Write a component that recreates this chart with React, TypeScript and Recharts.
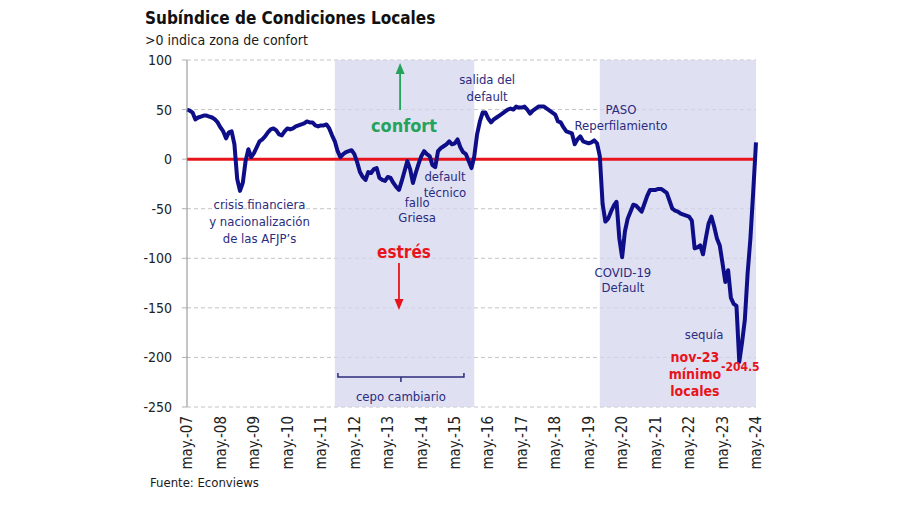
import React from 'react';
import {
  LineChart,
  Line,
  XAxis,
  YAxis,
  CartesianGrid,
  ReferenceArea,
  ReferenceLine,
  ReferenceDot,
} from 'recharts';

const FONT = "'DejaVu Sans Condensed', 'DejaVu Sans', sans-serif";
const NAVY_TEXT = '#2b2b7e';
const RED = '#e8141c';
const GREEN = '#25a35a';

// month index 0 = may-07 ... 204 = may-24
const tickLabels = [
  'may.-07', 'may.-08', 'may.-09', 'may.-10', 'may.-11', 'may.-12',
  'may.-13', 'may.-14', 'may.-15', 'may.-16', 'may.-17', 'may.-18',
  'may.-19', 'may.-20', 'may.-21', 'may.-22', 'may.-23', 'may.-24',
];
const tickMonths = [0, 12, 24, 36, 48, 60, 72, 84, 96, 108, 120, 132, 144, 156, 168, 180, 192, 204];
const yTicks = [100, 50, 0, -50, -100, -150, -200, -250];

const values = [
  // may-07 .. abr-08
  50, 49, 47, 40, 42, 43, 44, 44, 43, 42, 40, 37,
  // may-08 .. abr-09
  32, 28, 21, 27, 28, 15, -20, -32, -24, -2, 10, 2,
  // may-09 .. abr-10
  6, 12, 18, 20, 23, 27, 30, 31, 29, 25, 24, 28,
  // may-10 .. abr-11
  31, 30, 31, 33, 34, 35, 36, 38, 37, 37, 34, 33,
  // may-11 .. abr-12
  34, 34, 35, 31, 24, 18, 8, 2, 5, 7, 8, 9,
  // may-12 .. abr-13
  5, -3, -13, -18, -21, -13, -14, -10, -9, -19, -21, -22,
  // may-13 .. abr-14
  -18, -19, -24, -28, -31, -22, -12, -2, -10, -24, -14, -5,
  // may-14 .. abr-15
  3, 8, 5, 3, -6, -8, 8, 11, 13, 15, 18, 15,
  // may-15 .. abr-16
  16, 20, 12, 7, 5, -2, -9, 3, 25, 38, 47, 47,
  // may-16 .. abr-17
  41, 37, 40, 42, 44, 46, 48, 50, 51, 50, 53, 52,
  // may-17 .. abr-18
  52, 53, 50, 46, 49, 51, 53, 53, 53, 51, 49, 47,
  // may-18 .. abr-19
  45, 38, 37, 32, 28, 27, 26, 15, 20, 23, 18, 17,
  // may-19 .. abr-20
  16, 17, 19, 16, 3, -45, -63, -60, -53, -47, -43, -80,
  // may-20 .. abr-21
  -99, -73, -60, -53, -46, -47, -50, -53, -45, -37, -31, -31,
  // may-21 .. abr-22
  -31, -30, -30, -32, -34, -42, -50, -52, -53, -55, -56, -57,
  // may-22 .. abr-23
  -58, -62, -90, -89, -87, -96, -80, -65, -58, -68, -80, -87,
  // may-23 .. abr-24
  -105, -124, -112, -140, -146, -148, -204.5, -185, -162, -115, -80, -33,
  // may-24
  17,
];

const cepoPeriod = [53, 103];
const lastPeriod = [148, 204];

const data = values.map((v, m) => ({ m, v }));

const center = (props: any) => {
  const vb = props.viewBox || {};
  const cx = (vb.x ?? props.x ?? 0) + (vb.width ?? 0) / 2;
  const cy = (vb.y ?? props.y ?? 0) + (vb.height ?? 0) / 2;
  return { cx, cy };
};

type TextOpts = {
  lines: string[];
  color?: string;
  size?: number;
  bold?: boolean;
  lh?: number;
  dx?: number;
  dy?: number;
};

const textLabel = (o: TextOpts) => (props: any) => {
  const { cx, cy } = center(props);
  const lh = o.lh ?? 16;
  return (
    <text
      fill={o.color ?? NAVY_TEXT}
      fontFamily={FONT}
      fontSize={o.size ?? 13}
      fontWeight={o.bold ? 'bold' : 'normal'}
      textAnchor="middle"
    >
      {o.lines.map((l, k) => (
        <tspan key={k} x={cx + (o.dx ?? 0)} y={cy + (o.dy ?? 0) + k * lh} dy="0.35em">
          {l}
        </tspan>
      ))}
    </text>
  );
};

const arrowLabel = (color: string, up: boolean) => (props: any) => {
  const { cx, cy } = center(props);
  const s = up ? -1 : 1;
  return (
    <g>
      <line x1={cx} y1={cy} x2={cx} y2={cy + s * 38} stroke={color} strokeWidth={1.8} />
      <polygon
        points={`${cx - 4.5},${cy + s * 36} ${cx + 4.5},${cy + s * 36} ${cx},${cy + s * 47}`}
        fill={color}
      />
    </g>
  );
};

const bracketLabel = (props: any) => {
  const { cx, cy } = center(props);
  return (
    <g>
      <path
        d={`M${cx - 63},${cy - 4} L${cx - 63},${cy} L${cx + 63},${cy} L${cx + 63},${cy - 4} M${cx},${cy} L${cx},${cy + 5}`}
        stroke={NAVY_TEXT}
        strokeWidth={1.5}
        fill="none"
      />
      <text x={cx} y={cy + 19} dy="0.35em" textAnchor="middle" fill={NAVY_TEXT} fontFamily={FONT} fontSize={13}>
        cepo cambiario
      </text>
    </g>
  );
};

const XTick = (props: any) => {
  const { x, y, payload } = props;
  const idx = tickMonths.indexOf(payload.value);
  const label = idx >= 0 ? tickLabels[idx] : '';
  const yy = y + 1;
  return (
    <text
      x={x}
      y={yy}
      transform={`rotate(-90, ${x}, ${yy})`}
      textAnchor="end"
      dy="0.35em"
      fill="#222"
      fontFamily={FONT}
      fontSize={15}
    >
      {label}
    </text>
  );
};

const hidden = { r: 0, fill: 'none', stroke: 'none', ifOverflow: 'visible' as const };

export default function App() {
  return (
    <div style={{ position: 'absolute', left: 0, top: 0, width: 900, height: 505, background: '#fff' }}>
      <div
        style={{
          position: 'absolute', left: 145, top: 7, fontFamily: FONT, fontWeight: 'bold',
          fontSize: 17, lineHeight: '22px', color: '#111', whiteSpace: 'nowrap',
        }}
      >
        Subíndice de Condiciones Locales
      </div>
      <div
        style={{
          position: 'absolute', left: 145, top: 31, fontFamily: FONT, fontSize: 14,
          lineHeight: '18px', color: '#1a1a1a', whiteSpace: 'nowrap',
        }}
      >
        &gt;0 indica zona de confort
      </div>
      <div
        style={{
          position: 'absolute', left: 150, top: 475, fontFamily: FONT, fontSize: 13,
          lineHeight: '16px', color: '#1a1a1a', whiteSpace: 'nowrap',
        }}
      >
        Fuente: Econviews
      </div>
      <div style={{ position: 'absolute', left: 0, top: 0 }}>
        <LineChart
          width={900}
          height={505}
          data={data}
          margin={{ top: 60, right: 144, bottom: 0, left: 127 }}
        >
          <CartesianGrid vertical={false} stroke="#c4c4c4" strokeDasharray="4 3" />
          <ReferenceArea x1={cepoPeriod[0]} x2={cepoPeriod[1]} fill="#d6d6ef" fillOpacity={0.75} stroke="none" />
          <ReferenceArea x1={lastPeriod[0]} x2={lastPeriod[1]} fill="#d6d6ef" fillOpacity={0.75} stroke="none" />
          <XAxis
            type="number"
            dataKey="m"
            domain={[0, 204]}
            ticks={tickMonths}
            interval={0}
            height={98}
            axisLine={false}
            tickLine={false}
            tick={<XTick />}
          />
          <YAxis
            type="number"
            domain={[-250, 100]}
            ticks={yTicks}
            interval={0}
            width={60}
            axisLine={{ stroke: '#8a8a8a' }}
            tickLine={{ stroke: '#b0b0b0' }}
            tickSize={5}
            tickMargin={10}
            tick={{ fill: '#222', fontSize: 14, fontFamily: FONT }}
          />
          <ReferenceLine y={0} stroke={RED} strokeWidth={3} />
          <Line
            type="linear"
            dataKey="v"
            stroke="#0e0e88"
            strokeWidth={4}
            strokeLinejoin="round"
            dot={false}
            activeDot={false}
            isAnimationActive={false}
          />
          <ReferenceDot x={26} y={-46} {...hidden} label={textLabel({ lines: ['crisis financiera', 'y nacionalización', 'de las  AFJP\u2019s'], lh: 17 })} />
          <ReferenceDot x={82.5} y={-44} {...hidden} label={textLabel({ lines: ['fallo', 'Griesa'], lh: 15 })} />
          <ReferenceDot x={92.5} y={-17} {...hidden} label={textLabel({ lines: ['default', 'técnico'], lh: 16 })} />
          <ReferenceDot x={107.6} y={80} {...hidden} label={textLabel({ lines: ['salida del', 'default'], lh: 17 })} />
          <ReferenceDot x={155.6} y={50.6} {...hidden} label={textLabel({ lines: ['PASO', 'Reperfilamiento'], lh: 16 })} />
          <ReferenceDot x={156.3} y={-114} {...hidden} label={textLabel({ lines: ['COVID-19', 'Default'], lh: 15 })} />
          <ReferenceDot x={185.4} y={-177} {...hidden} label={textLabel({ lines: ['sequía'] })} />
          <ReferenceDot x={182.1} y={-199.6} {...hidden} label={textLabel({ lines: ['nov-23', 'mínimo', 'locales'], color: RED, bold: true, size: 14, lh: 17 })} />
          <ReferenceDot x={198} y={-204.5} {...hidden} label={textLabel({ lines: ['-204.5'], color: RED, bold: true, size: 12, dx: 1, dy: 5 })} />
          <ReferenceDot x={77.8} y={33.4} {...hidden} label={textLabel({ lines: ['confort'], color: GREEN, bold: true, size: 18 })} />
          <ReferenceDot x={77.8} y={-93.7} {...hidden} label={textLabel({ lines: ['estrés'], color: RED, bold: true, size: 17 })} />
          <ReferenceDot x={76.4} y={49.6} {...hidden} label={arrowLabel(GREEN, true)} />
          <ReferenceDot x={76} y={-104.8} {...hidden} label={arrowLabel(RED, false)} />
          <ReferenceDot x={76.7} y={-219.7} {...hidden} label={bracketLabel} />
        </LineChart>
      </div>
    </div>
  );
}
